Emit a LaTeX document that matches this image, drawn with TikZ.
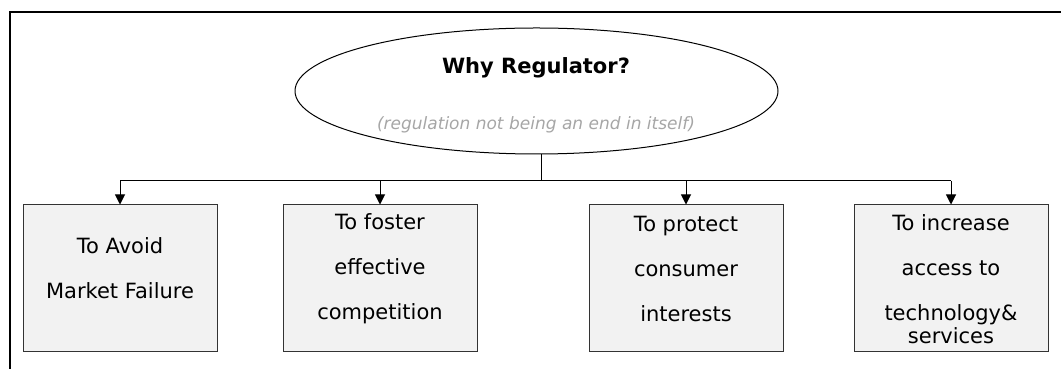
\documentclass[tikz,border=0pt]{standalone}
\usepackage{fontspec}
\setmainfont{DejaVu Sans}
\usetikzlibrary{arrows.meta,shapes.geometric}

\definecolor{boxgray}{HTML}{F2F2F2}
\definecolor{notegray}{HTML}{A6A6A6}

\begin{document}
\begin{tikzpicture}[x=1pt, y=1pt,
    goal/.style={draw=black!80, line width=1pt, fill=boxgray,
        minimum width=194pt, minimum height=147pt, inner sep=0pt},
    goaltext/.style={align=center, inner sep=0pt,
        font=\fontsize{21}{45}\selectfont},
    arr/.style={line width=1pt, -{Triangle[width=10pt,length=10pt]}}]
    \useasboundingbox (0,0) rectangle (1061,369);

    % Outer frame (top and left edges only)
    \draw[line width=1.3pt] (10,0) -- (10,357) -- (1061,357);

    % Central question
    \node[draw, ellipse, line width=1pt, minimum width=483pt, minimum height=126pt]
        (top) at (536.5,278) {};
    \node[font=\fontsize{21}{25}\selectfont\bfseries] (title) at (536,301) {Why Regulator?};
    \node[font=\fontsize{17}{20}\selectfont\itshape, text=notegray] (note) at (536,244)
        {(regulation not being an end in itself)};

    % Goal boxes
    \node[goal] (b1) at (120,90.5) {};
    \node[goal] (b2) at (380,90.5) {};
    \node[goal] (b3) at (686,90.5) {};
    \node[goal] (b4) at (951,90.5) {};

    \node[goaltext] (t1) at (120,101) {To Avoid\\Market Failure};
    \node[goaltext] (t2) at (380,100.5) {To foster\\effective\\competition};
    \node[goaltext] (t3) at (686,100.5) {To protect\\consumer\\interests};
    \node[goaltext] (t4) at (951,90) {To increase\\access to\\technology\&\\[-22pt]services};

    % Connectors
    \coordinate (hub) at (541,188);
    \draw[line width=1pt] (top.south -| hub) -- (hub);
    \draw[line width=1pt] (b1.north |- hub) -- (b4.north |- hub);
    \foreach \b in {b1,b2,b3,b4}
        \draw[arr] (\b.north |- hub) -- (\b.north);
\end{tikzpicture}
\end{document}
